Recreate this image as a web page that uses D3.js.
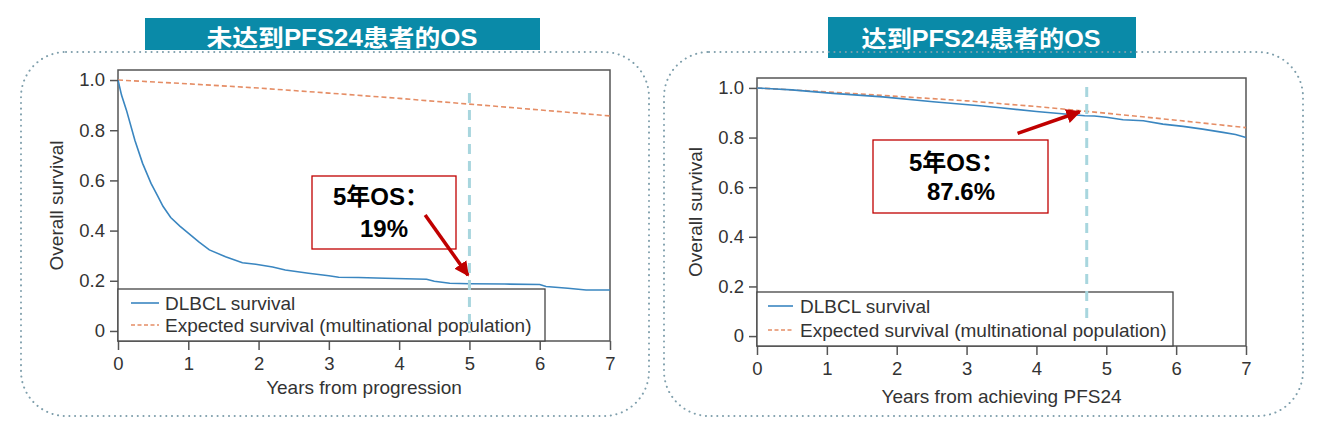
<!DOCTYPE html>
<html><head><meta charset="utf-8">
<script src="https://cdn.jsdelivr.net/npm/d3@7/dist/d3.min.js"></script>
<style>
html,body{margin:0;padding:0;background:#fff;}
svg{display:block;}
text{font-family:"Liberation Sans",Arial,"Noto Sans CJK SC",sans-serif;}
</style></head>
<body>
<svg id="chart" width="1332" height="427"></svg>
<script>
// ---------------- data ----------------
const panelTitles = ["未达到PFS24患者的OS", "达到PFS24患者的OS"];
const xAxisTitles = ["Years from progression", "Years from achieving PFS24"];
const yAxisTitle = "Overall survival";
const legendLabels = ["DLBCL survival", "Expected survival (multinational population)"];
const xTickValues = [0, 1, 2, 3, 4, 5, 6, 7];
const yTickValues = [0, 0.2, 0.4, 0.6, 0.8, 1.0];
const yTickLabels = ["0", "0.2", "0.4", "0.6", "0.8", "1.0"];
const annotationLine1 = ["5年OS：", "5年OS："];
const annotationLine2 = ["19%", "87.6%"];
const markerYears = [5, 4.72];

// left panel: not achieving PFS24
const leftDlbclYears = [0, 0.05, 0.12, 0.24, 0.35, 0.47, 0.56, 0.64, 0.75, 0.88, 1.0, 1.15, 1.3, 1.53, 1.77, 1.96, 2.2, 2.38, 2.71, 3.0, 3.14, 3.42, 3.8, 4.39, 4.5, 4.72, 5.0, 5.5, 6.0, 6.09, 6.4, 6.66, 7.0];
const leftDlbclSurv  = [1.0, 0.94, 0.88, 0.76, 0.668, 0.588, 0.54, 0.497, 0.452, 0.418, 0.39, 0.355, 0.323, 0.296, 0.272, 0.266, 0.255, 0.243, 0.23, 0.22, 0.214, 0.213, 0.21, 0.206, 0.198, 0.19, 0.188, 0.187, 0.185, 0.177, 0.17, 0.163, 0.163];
const leftExpYears = [0, 1, 2, 3, 4, 5, 6, 7];
const leftExpSurv  = [1.0, 0.985, 0.968, 0.948, 0.927, 0.904, 0.881, 0.857];

// right panel: achieving PFS24
const rightDlbclYears = [0, 0.5, 1.09, 1.8, 2.52, 3.19, 3.48, 4.0, 4.69, 4.83, 5.0, 5.24, 5.53, 5.81, 6.1, 6.38, 6.67, 6.85, 7.0];
const rightDlbclSurv  = [1.0, 0.992, 0.978, 0.964, 0.944, 0.928, 0.92, 0.905, 0.888, 0.887, 0.882, 0.872, 0.868, 0.854, 0.845, 0.834, 0.821, 0.812, 0.80];
const rightExpYears = [0, 1, 2, 3, 4, 5, 6, 7];
const rightExpSurv  = [1.0, 0.984, 0.966, 0.948, 0.925, 0.898, 0.870, 0.84];

// ---------------- layout ----------------
const svg = d3.select("#chart");
const C = {
  teal: "#0a8aa8", blue: "#3a86c0", orange: "#e58d65", vline: "#a8d6de",
  red: "#c00000", frame: "#555", text: "#333", dots: "#7f9fac"
};

const panels = [
  {
    title: panelTitles[0], titleBox: [145, 18, 395, 32], titleX: 342, titleY: 45.5, titleLen: 271,
    border: [21, 52, 628, 364],
    frame: {x0: 118, x1: 610, y0: 70, y1: 341},
    dlbcl: leftDlbclYears.map((t, i) => [t, leftDlbclSurv[i]]),
    exp: leftExpYears.map((t, i) => [t, leftExpSurv[i]]),
    xTitle: xAxisTitles[0], xTitleY: 394, tickLabelY: 370,
    yTitleX: 63,
    legend: {x1: 545, y0: 289, row1: 303, row2: 325, sx0: 131, sx1: 159, tx: 165},
    marker: markerYears[0], vY0: 93, vY1: 333,
    box: [312, 176, 144, 73], l1: [333, 205], l2: [360, 237],
    arrow: {from: [4.37, 0.462], to: [4.98, 0.222]},
    line2: annotationLine2[0]
  },
  {
    title: panelTitles[1], titleBox: [828, 17, 308, 41], titleX: 981, titleY: 47, titleLen: 239,
    border: [664, 52, 639, 364],
    frame: {x0: 757, x1: 1246, y0: 78, y1: 346},
    dlbcl: rightDlbclYears.map((t, i) => [t, rightDlbclSurv[i]]),
    exp: rightExpYears.map((t, i) => [t, rightExpSurv[i]]),
    xTitle: xAxisTitles[1], xTitleY: 403, tickLabelY: 375,
    yTitleX: 702,
    legend: {x1: 1173, y0: 292, row1: 306, row2: 330, sx0: 768, sx1: 793, tx: 800},
    marker: markerYears[1], vY0: 87, vY1: 325,
    box: [873, 140, 175, 73], l1: [909, 171], l2: [927, 200],
    arrow: {from: [3.73, 0.817], to: [4.62, 0.904]},
    line2: annotationLine2[1]
  }
];

// arrow marker
const defs = svg.append("defs");
defs.append("marker").attr("id", "arrowRed")
  .attr("viewBox", "0 0 10 10").attr("refX", 9).attr("refY", 5)
  .attr("markerWidth", 4.2).attr("markerHeight", 4.2).attr("orient", "auto")
  .attr("markerUnits", "strokeWidth")
  .append("path").attr("d", "M0,0 L10,5 L0,10 Z").attr("fill", C.red);

panels.forEach((p, pi) => {
  const g = svg.append("g");
  const f = p.frame;
  const x = d3.scaleLinear().domain([0, 7]).range([f.x0, f.x1]);
  const y = d3.scaleLinear().domain([-0.04, 1.04]).range([f.y1, f.y0]);

  // title box
  g.append("rect").attr("x", p.titleBox[0]).attr("y", p.titleBox[1])
    .attr("width", p.titleBox[2]).attr("height", p.titleBox[3]).attr("fill", C.teal);
  g.append("text").attr("x", p.titleX).attr("y", p.titleY).attr("text-anchor", "middle")
    .attr("fill", "#fff").attr("font-weight", "bold").attr("font-size", 23)
    .attr("textLength", p.titleLen).attr("lengthAdjust", "spacingAndGlyphs")
    .text(p.title);

  // dotted rounded border
  g.append("rect").attr("x", p.border[0]).attr("y", p.border[1])
    .attr("width", p.border[2]).attr("height", p.border[3])
    .attr("rx", 45).attr("ry", 45)
    .attr("fill", "none").attr("stroke", C.dots).attr("stroke-width", 2)
    .attr("stroke-dasharray", "0.1 5.6").attr("stroke-linecap", "round");

  // plot frame
  g.append("rect").attr("x", f.x0).attr("y", f.y0)
    .attr("width", f.x1 - f.x0).attr("height", f.y1 - f.y0)
    .attr("fill", "#fff").attr("stroke", C.frame).attr("stroke-width", 1.5);

  // curves
  const line = d3.line().x(d => x(d[0])).y(d => y(d[1]));
  g.append("path").datum(p.exp).attr("d", line).attr("fill", "none")
    .attr("stroke", C.orange).attr("stroke-width", 1.6).attr("stroke-dasharray", "5 3");
  g.append("path").datum(p.dlbcl).attr("d", line).attr("fill", "none")
    .attr("stroke", C.blue).attr("stroke-width", 1.6);

  // axes
  const xAxis = d3.axisBottom(x).tickValues(xTickValues).tickFormat(d3.format("d"))
    .tickSize(9).tickSizeOuter(0).tickPadding(4);
  const gx = g.append("g").attr("transform", `translate(0,${f.y1})`).call(xAxis);
  gx.select(".domain").remove();
  gx.selectAll("line").attr("stroke", C.frame).attr("stroke-width", 1.5);
  gx.selectAll("text").attr("font-size", 18.5).attr("fill", C.text)
    .attr("font-family", '"Liberation Sans", Arial, sans-serif')
    .attr("dy", null).attr("y", p.tickLabelY - f.y1);

  const yAxis = d3.axisLeft(y).tickValues(yTickValues)
    .tickFormat((d, i) => yTickLabels[i]).tickSize(8).tickSizeOuter(0).tickPadding(5);
  const gy = g.append("g").attr("transform", `translate(${f.x0},0)`).call(yAxis);
  gy.select(".domain").remove();
  gy.selectAll("line").attr("stroke", C.frame).attr("stroke-width", 1.5);
  gy.selectAll("text").attr("font-size", 18.5).attr("fill", C.text)
    .attr("font-family", '"Liberation Sans", Arial, sans-serif');

  // axis titles
  g.append("text").attr("x", (f.x0 + f.x1) / 2).attr("y", p.xTitleY)
    .attr("text-anchor", "middle").attr("font-size", 19).attr("fill", C.text)
    .text(p.xTitle);
  g.append("text").attr("transform", `translate(${p.yTitleX},${(f.y0 + f.y1) / 2}) rotate(-90)`)
    .attr("text-anchor", "middle").attr("font-size", 19).attr("fill", C.text)
    .text(yAxisTitle);

  // legend
  const L = p.legend;
  g.append("rect").attr("x", f.x0).attr("y", L.y0).attr("width", L.x1 - f.x0)
    .attr("height", f.y1 - L.y0).attr("fill", "#fff").attr("stroke", "#444").attr("stroke-width", 1.3);
  g.append("line").attr("x1", L.sx0).attr("x2", L.sx1).attr("y1", L.row1).attr("y2", L.row1)
    .attr("stroke", C.blue).attr("stroke-width", 1.6);
  g.append("line").attr("x1", L.sx0).attr("x2", L.sx1).attr("y1", L.row2).attr("y2", L.row2)
    .attr("stroke", C.orange).attr("stroke-width", 1.6).attr("stroke-dasharray", "4 2.5");
  g.append("text").attr("x", L.tx).attr("y", L.row1 + 7).attr("font-size", 19).attr("fill", C.text)
    .text(legendLabels[0]);
  g.append("text").attr("x", L.tx).attr("y", L.row2 + 7).attr("font-size", 19).attr("fill", C.text)
    .text(legendLabels[1]);

  // vertical marker line
  g.append("line").attr("x1", x(p.marker)).attr("x2", x(p.marker))
    .attr("y1", p.vY0).attr("y2", p.vY1)
    .attr("stroke", C.vline).attr("stroke-width", 3).attr("stroke-dasharray", "10 7");

  // annotation box
  g.append("rect").attr("x", p.box[0]).attr("y", p.box[1]).attr("width", p.box[2]).attr("height", p.box[3])
    .attr("fill", "#fff").attr("stroke", C.red).attr("stroke-width", 1.3);
  g.append("text").attr("x", p.l1[0]).attr("y", p.l1[1]).attr("font-size", 24)
    .attr("font-weight", "bold").attr("fill", "#000").text(annotationLine1[pi]);
  g.append("text").attr("x", p.l2[0]).attr("y", p.l2[1]).attr("font-size", 24)
    .attr("font-weight", "bold").attr("fill", "#000").text(p.line2);

  // arrow
  g.append("line")
    .attr("x1", x(p.arrow.from[0])).attr("y1", y(p.arrow.from[1]))
    .attr("x2", x(p.arrow.to[0])).attr("y2", y(p.arrow.to[1]))
    .attr("stroke", C.red).attr("stroke-width", 3.5).attr("marker-end", "url(#arrowRed)");
});
</script>
</body></html>
